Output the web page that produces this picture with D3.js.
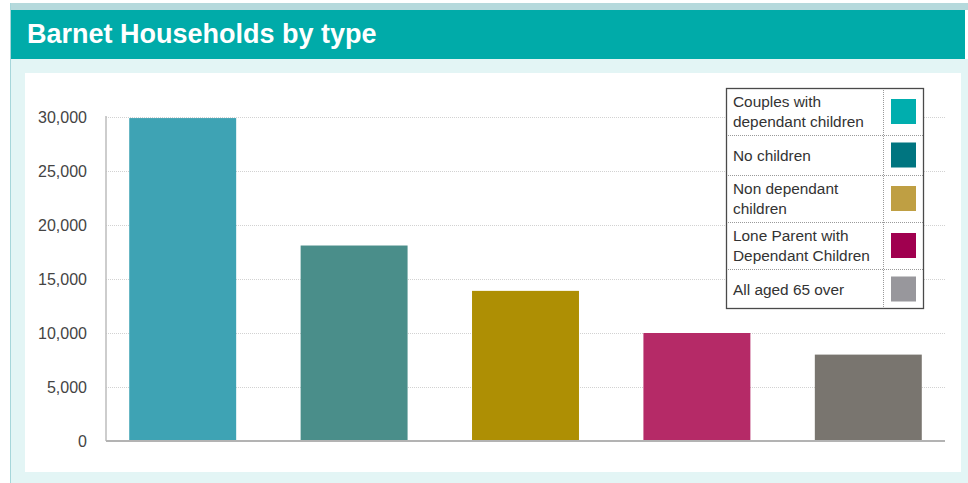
<!DOCTYPE html>
<html>
<head>
<meta charset="utf-8">
<script src="https://cdn.jsdelivr.net/npm/d3@7"></script>
<style>
  html, body { margin: 0; padding: 0; background: #ffffff; }
  svg { display: block; font-family: "Liberation Sans", Arial, Helvetica, sans-serif; }
</style>
</head>
<body>
<svg id="chart" width="968" height="483"></svg>
<script>
// ---- data ----
const titleText = "Barnet Households by type";
const categories = [
  "Couples with dependant children",
  "No children",
  "Non dependant children",
  "Lone Parent with Dependant Children",
  "All aged 65 over"
];
const legendLines = [
  ["Couples with", "dependant children"],
  ["No children"],
  ["Non dependant", "children"],
  ["Lone Parent with", "Dependant Children"],
  ["All aged 65 over"]
];
const values = [29900, 18100, 13900, 10000, 8000];
const barColors = ["#3ea3b4", "#4a8e8a", "#ae8f04", "#b52a67", "#79756f"];
const legendColors = ["#00aeae", "#007580", "#bf9f43", "#a0004f", "#98979c"];
const yTicks = [0, 5000, 10000, 15000, 20000, 25000, 30000];

// ---- layout ----
const svg = d3.select("#chart");
const W = 968, H = 483;

svg.append("rect").attr("x", 0).attr("y", 0).attr("width", W).attr("height", H).attr("fill", "#ffffff");
svg.append("rect").attr("x", 10).attr("y", 3).attr("width", W - 10).attr("height", 7).attr("fill", "#b5d9dc");
svg.append("rect").attr("x", 11).attr("y", 59).attr("width", W - 11).attr("height", H - 59).attr("fill", "#e3f5f5");
svg.append("rect").attr("x", 11).attr("y", 10).attr("width", 954).attr("height", 49).attr("fill", "#00aba9");
svg.append("line").attr("x1", 10.5).attr("x2", 10.5).attr("y1", 3).attr("y2", H)
  .attr("stroke", "#a6d6da").attr("stroke-width", 1);
svg.append("rect").attr("x", 25).attr("y", 73).attr("width", 936).attr("height", 399).attr("fill", "#ffffff");

svg.append("text").attr("x", 27).attr("y", 43)
  .attr("fill", "#ffffff").attr("font-size", 27).attr("font-weight", "bold")
  .text(titleText);

// ---- scales ----
const plotLeft = 106, plotRight = 945;
const y = d3.scaleLinear().domain([0, 30000]).range([441, 117]);
const x = d3.scaleBand().domain(categories).range([97, 954])
  .paddingInner(0.376).paddingOuter(0.188);

// gridlines
svg.append("g").selectAll("line").data(yTicks.filter(d => d > 0)).join("line")
  .attr("x1", plotLeft).attr("x2", plotRight)
  .attr("y1", d => Math.round(y(d)) + 0.5).attr("y2", d => Math.round(y(d)) + 0.5)
  .attr("stroke", "#d2d2d2").attr("stroke-width", 1).attr("stroke-dasharray", "1,1");

// y axis labels
const yAxis = d3.axisLeft(y).tickValues(yTicks).tickSize(0).tickPadding(19)
  .tickFormat(d3.format(","));
const gy = svg.append("g").attr("transform", `translate(${plotLeft},0)`).call(yAxis);
gy.select(".domain").remove();
gy.selectAll("text").attr("font-size", 16).attr("fill", "#444444")
  .attr("font-family", "'Liberation Sans', Arial, sans-serif");

// axis lines
svg.append("line").attr("x1", plotLeft).attr("x2", plotLeft).attr("y1", 116).attr("y2", 441)
  .attr("stroke", "#bdbdbd").attr("stroke-width", 1.5);

// bars
svg.append("g").selectAll("rect").data(values).join("rect")
  .attr("x", (d, i) => x(categories[i]))
  .attr("width", x.bandwidth())
  .attr("y", d => y(d))
  .attr("height", d => y(0) - y(d))
  .attr("fill", (d, i) => barColors[i]);

svg.append("line").attr("x1", plotLeft).attr("x2", plotRight).attr("y1", 441).attr("y2", 441)
  .attr("stroke", "#b3b3b3").attr("stroke-width", 2);

// ---- legend ----
const lgX = 726, lgY = 88, lgW = 198, divX = 883;
const rowH = legendLines.map(l => l.length === 2 ? 47 : 40);
const rowY = [];
rowH.reduce((acc, h, i) => { rowY[i] = acc; return acc + h; }, lgY);
const lgH = d3.sum(rowH);

const lg = svg.append("g");
lg.append("rect").attr("x", lgX).attr("y", lgY).attr("width", lgW).attr("height", lgH)
  .attr("fill", "#ffffff");
// row dividers
lg.selectAll("line.row").data(rowY.slice(1)).join("line").attr("class", "row")
  .attr("x1", lgX).attr("x2", lgX + lgW)
  .attr("y1", d => d + 0.5).attr("y2", d => d + 0.5)
  .attr("stroke", "#9a9a9a").attr("stroke-dasharray", "1,1");
lg.append("line").attr("x1", divX + 0.5).attr("x2", divX + 0.5).attr("y1", lgY).attr("y2", lgY + lgH)
  .attr("stroke", "#9a9a9a").attr("stroke-dasharray", "1,1");
lg.append("rect").attr("x", lgX + 0.5).attr("y", lgY + 0.5).attr("width", lgW - 1).attr("height", lgH - 1)
  .attr("fill", "none").attr("stroke", "#4a4a4a").attr("stroke-width", 1.3);

legendLines.forEach((lines, i) => {
  const cy = rowY[i] + rowH[i] / 2;
  const t = lg.append("text").attr("x", 733).attr("font-size", 15.4).attr("fill", "#333333");
  lines.forEach((ln, j) => {
    t.append("tspan").attr("x", 733)
      .attr("y", cy + 5.5 + (j - (lines.length - 1) / 2) * 20)
      .text(ln);
  });
  lg.append("rect").attr("x", 891).attr("y", cy - 12.5).attr("width", 25).attr("height", 25)
    .attr("fill", legendColors[i]);
});
</script>
</body>
</html>
